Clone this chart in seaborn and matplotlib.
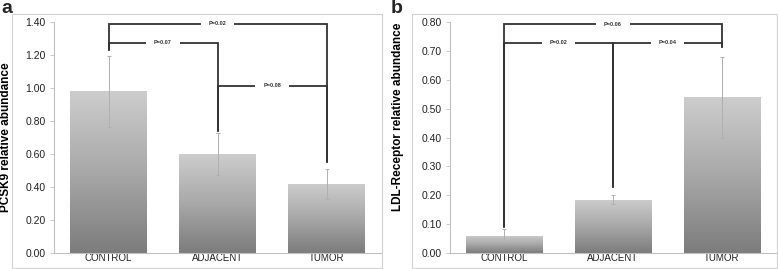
import numpy as np
import pandas as pd
import seaborn as sns
import matplotlib.pyplot as plt
from matplotlib.colors import LinearSegmentedColormap
from matplotlib.patches import Rectangle

# data
groups = ["CONTROL", "ADJACENT", "TUMOR"]

pcsk9_mean = [0.98, 0.60, 0.42]
pcsk9_err = [0.215, 0.13, 0.09]

ldlr_mean = [0.06, 0.185, 0.54]
ldlr_err = [0.022, 0.016, 0.14]

# brackets: (left group, right group, height, label, left leg end, right leg end)
pcsk9_brackets = [
    (0, 2, 1.39, "P=0.02", 1.23, 0.55),
    (0, 1, 1.275, "P=0.07", 1.23, 0.74),
    (1, 2, 1.015, "P=0.08", 0.74, 0.55),
]
ldlr_brackets = [
    (0, 2, 0.793, "P=0.06", 0.09, 0.715),
    (0, 1, 0.729, "P=0.02", 0.09, 0.23),
    (1, 2, 0.729, "P=0.04", 0.23, 0.715),
]

sns.set_theme(style="white")
plt.rcParams['font.family'] = ['Liberation Sans', 'DejaVu Sans']

grad = LinearSegmentedColormap.from_list("bargrad", ["#7c7c7c", "#a8a8a8", "#cdcdcd"])


def gradient_bars(ax, means, errs, ymax, step):
    df = pd.DataFrame({"group": groups, "value": means})
    sns.barplot(data=df, x="group", y="value", color="#aaaaaa", width=0.7,
                errorbar=None, ax=ax, edgecolor="none")
    ax.set_xlim(-0.5, 2.5)
    ax.set_ylim(0, ymax)
    # vertical gradient inside each bar
    g = np.linspace(0, 1, 256).reshape(-1, 1)
    for p in ax.patches:
        x0, w, h = p.get_x(), p.get_width(), p.get_height()
        im = ax.imshow(g, extent=[x0, x0 + w, 0, h], origin="lower", cmap=grad,
                       aspect="auto", zorder=p.get_zorder() + 0.1)
        im.set_clip_path(p)
    ax.set_xlim(-0.5, 2.5)
    ax.set_ylim(0, ymax)
    ax.errorbar(range(len(means)), means, yerr=errs, fmt="none", ecolor="#b0b0b0",
                elinewidth=0.7, capsize=1.5, capthick=0.7, zorder=5)
    ticks = np.arange(0, ymax + 1e-9, step)
    ax.set_yticks(ticks)
    ax.set_yticklabels([f"{v:.2f}" for v in ticks], fontsize=7.5, color="#222222")
    ax.set_xticks(range(len(groups)))
    ax.set_xticklabels(groups, fontsize=7, color="#222222")
    ax.set_xlabel("")
    for s in ["top", "right"]:
        ax.spines[s].set_visible(False)
    for s in ["left", "bottom"]:
        ax.spines[s].set_color("#c0c0c0")
        ax.spines[s].set_linewidth(0.8)
    ax.tick_params(axis="y", which="both", left=True, length=3, width=0.6, color="#c0c0c0", pad=3)
    ax.tick_params(axis="x", bottom=False, length=0, pad=0)


def draw_brackets(ax, brackets):
    for i, j, y, label, li, lj in brackets:
        ax.plot([i, i, j, j], [li, y, y, lj], color="#333333", lw=1.3, zorder=6,
                solid_joinstyle="miter")
        ax.text((i + j) / 2, y, label, fontsize=4, weight="bold", ha="center", va="center",
                color="#333333", zorder=7,
                bbox=dict(boxstyle="square,pad=1.4", fc="white", ec="none"))


fig = plt.figure(figsize=(7.78, 2.69), dpi=100)
W, H = 778, 269

ax1 = fig.add_axes([54 / W, 16 / H, 327 / W, 231 / H])
ax2 = fig.add_axes([450 / W, 16 / H, 326 / W, 231 / H])

gradient_bars(ax1, pcsk9_mean, pcsk9_err, 1.40, 0.20)
gradient_bars(ax2, ldlr_mean, ldlr_err, 0.80, 0.10)
draw_brackets(ax1, pcsk9_brackets)
draw_brackets(ax2, ldlr_brackets)

ax1.set_ylabel("PCSK9 relative abundance", fontsize=8.5, weight="bold", color="black")
ax1.yaxis.set_label_coords(-0.128, 0.5)
ax2.set_ylabel("LDL-Receptor relative abundance", fontsize=8.5, weight="bold", color="black")
ax2.yaxis.set_label_coords(-0.141, 0.59)

# chart area frames
fig.patches.append(Rectangle((12 / W, 1 / H), 370 / W, 254 / H, transform=fig.transFigure,
                             fill=False, ec="#d0d0d0", lw=0.8))
fig.patches.append(Rectangle((412 / W, 1 / H), 365 / W, 254 / H, transform=fig.transFigure,
                             fill=False, ec="#d0d0d0", lw=0.8))

fig.text(1 / W, 1.0, "a", fontsize=14, weight="bold", va="top", ha="left")
fig.text(391 / W, 1.0, "b", fontsize=14, weight="bold", va="top", ha="left")

fig.savefig("out.png", dpi=100)
